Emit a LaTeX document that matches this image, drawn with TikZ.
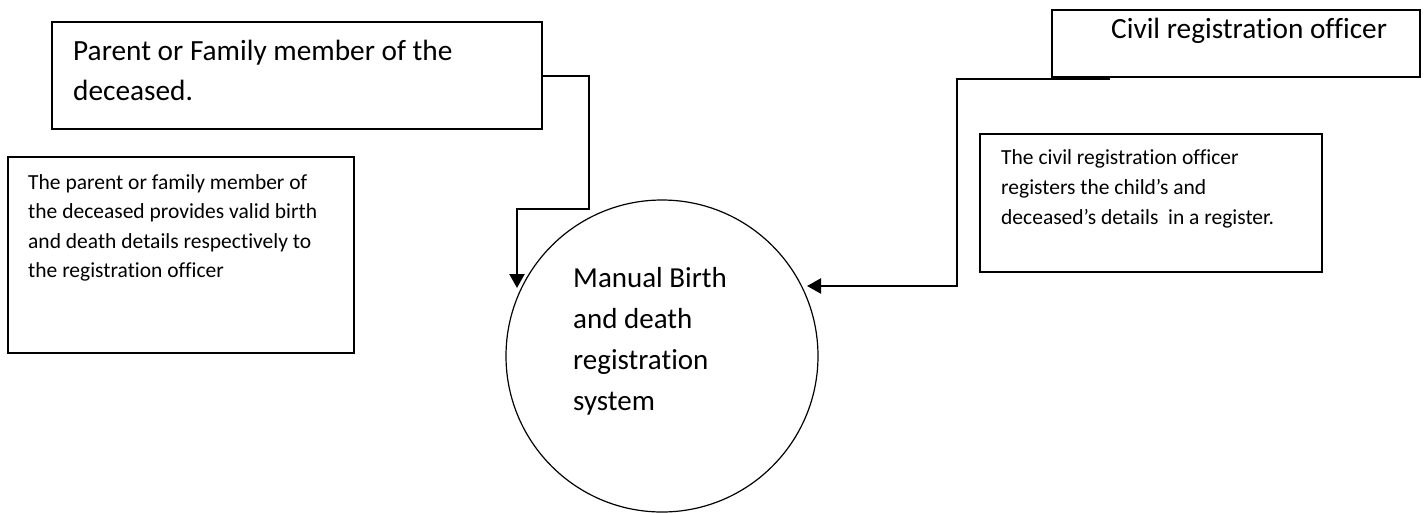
\documentclass[tikz,border=0pt]{standalone}
\usepackage{fontspec}
\setmainfont{Carlito}[Ligatures=NoCommon]
\usetikzlibrary{arrows.meta}

\tikzset{
  entity/.style={draw, line width=1.8pt, rectangle, inner sep=0pt},
  note/.style={draw, line width=1.4pt, rectangle, inner sep=0pt},
  process/.style={draw, line width=1.2pt, circle, inner sep=0pt, minimum size=312pt},
  bigtext/.style={anchor=base west, inner sep=0pt, align=left, font=\fontsize{29.3}{39.5}\selectfont},
  smalltext/.style={anchor=base west, inner sep=0pt, align=left, font=\fontsize{21.5}{29.5}\selectfont},
  flow/.style={line width=2.2pt, -{Triangle[length=14pt,width=15pt]}}
}

\begin{document}
\begin{tikzpicture}[x=1pt, y=-1pt]
  \useasboundingbox (0,0) rectangle (1428,512);

  % external entities (labels anchored on the baseline of their last line)
  \node[entity, minimum width=490pt, minimum height=107pt] (parent) at (297,75.5) {};
  \node[bigtext] (parentlbl) at (73,100) {Parent or Family member of the\\deceased.};

  \node[entity, minimum width=368pt, minimum height=67pt] (officer) at (1236,43.5) {};
  \node[bigtext] (officerlbl) at (1111,38) {Civil registration officer};

  % explanatory notes
  \node[note, minimum width=346pt, minimum height=196pt] (note1) at (181,255) {};
  \node[smalltext] (note1lbl) at (28,277.5) {The parent or family member of\\the deceased provides valid birth\\and death details respectively to\\the registration officer};

  \node[note, minimum width=342pt, minimum height=138pt] (note2) at (1151,203) {};
  \node[smalltext, font=\fontsize{21.5}{30}\selectfont] (note2lbl) at (1001,224) {The civil registration officer\\registers the child’s and\\deceased’s details \ in a register.};

  % the process
  \node[process] (system) at (662,356) {};
  \node[bigtext, font=\fontsize{29}{41}\selectfont] (systemlbl) at (573,410) {Manual Birth\\and death\\registration\\system};

  % data flows
  \coordinate (in1) at (517,288);
  \coordinate (out2) at (1110,79);
  \coordinate (in2) at (807,286);

  \draw[flow] (parent.east |- 0,76) -- (589,76) -- (589,209) -- (517,209) -- (in1);
  \draw[flow] (out2) -- (957,79) -- (957,286) -- (in2);
\end{tikzpicture}
\end{document}
